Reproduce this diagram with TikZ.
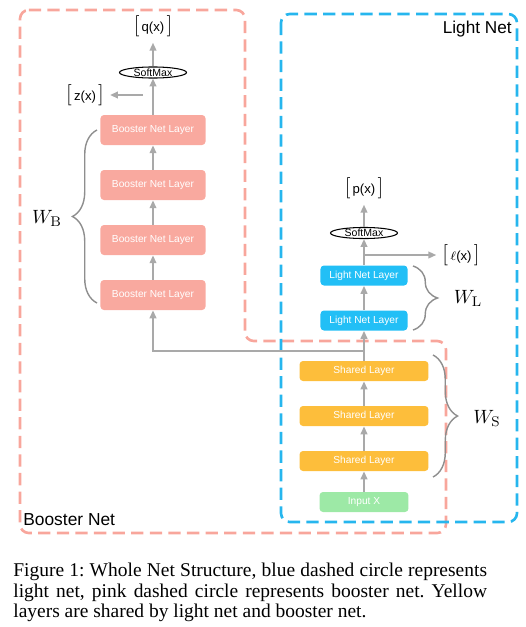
\documentclass[tikz,border=0pt]{standalone}
\usepackage[no-math]{fontspec}
\setmainfont{Liberation Serif}
\newfontfamily\helv{Liberation Sans}
\usetikzlibrary{arrows.meta,shapes.geometric,decorations.pathreplacing}

\definecolor{boostpink}{HTML}{F9A99F}
\definecolor{boostdash}{HTML}{F8A69C}
\definecolor{lightblue}{HTML}{22BFF6}
\definecolor{lightdash}{HTML}{26B6EE}
\definecolor{sharedyellow}{HTML}{FDBE3B}
\definecolor{inputgreen}{HTML}{9DE9A6}
\definecolor{arrgray}{HTML}{A9A9A9}
\definecolor{bracegray}{HTML}{8E8E8E}

\newcommand{\outbkt}[1]{{\fontsize{12}{12}\selectfont$[$}\,#1\,{\fontsize{12}{12}\selectfont$]$}}

\begin{document}
\begin{tikzpicture}[x=0.57pt,y=-0.57pt,
    layer/.style={rectangle,rounded corners=2pt,text=white,inner sep=0pt,font=\helv\fontsize{5.8}{6}\selectfont},
    boostbox/.style={layer,fill=boostpink,minimum width=59.9pt,minimum height=17.1pt},
    lightbox/.style={layer,fill=lightblue,minimum width=49.6pt,minimum height=11.4pt},
    sharedbox/.style={layer,fill=sharedyellow,minimum width=73.5pt,minimum height=11.4pt},
    inputbox/.style={layer,fill=inputgreen,minimum width=50.7pt,minimum height=11.4pt},
    softmax/.style={ellipse,draw=black,line width=0.6pt,inner sep=0pt,minimum width=38.2pt,minimum height=6.3pt,font=\helv\fontsize{6}{6}\selectfont},
    outlbl/.style={font=\helv\fontsize{7.5}{8}\selectfont},
    arr/.style={draw=arrgray,line width=1pt,-{Triangle[length=4.5pt,width=3.8pt]}},
    brc/.style={draw=bracegray,line width=0.8pt,decorate,decoration={brace,amplitude=14pt}},
    wlbl/.style={font=\fontsize{11}{12}\selectfont}]

      \useasboundingbox (0,0) rectangle (525,627);

      \draw[boostdash,line width=1.5pt,dash pattern=on 7pt off 3.6pt,rounded corners=5pt] (20,10) -- (245,10) -- (245,341) -- (446,341) -- (446,533) -- (20,533) -- cycle;
      \draw[lightdash,line width=1.5pt,dash pattern=on 7pt off 3.6pt,rounded corners=5pt] (281,14) rectangle (517,522);
      \node[anchor=base east,inner sep=0pt,font=\helv\fontsize{9.8}{10}\selectfont] (lnname) at (512,33){Light Net};
      \node[anchor=base west,inner sep=0pt,font=\helv\fontsize{9.9}{10}\selectfont] (bnname) at (23,525){Booster Net};

      \node[boostbox] (bn1) at (153,295){Booster Net Layer};
      \node[boostbox] (bn2) at (153,240){Booster Net Layer};
      \node[boostbox] (bn3) at (153,185){Booster Net Layer};
      \node[boostbox] (bn4) at (153,130){Booster Net Layer};
      \node[softmax] (smB) at (153,72.5){SoftMax};
      \node[outlbl] (q) at (153,26){\outbkt{q(x)}};
      \node[outlbl] (z) at (85,95){\outbkt{z(x)}};
      \coordinate (zs) at (143,95);

      \node[inputbox] (inp) at (364,502){Input X};
      \node[sharedbox] (sh3) at (364,461){Shared Layer};
      \node[sharedbox] (sh2) at (364,416){Shared Layer};
      \node[sharedbox] (sh1) at (364,371){Shared Layer};
      \node[lightbox] (ln1) at (364,320.5){Light Net Layer};
      \node[lightbox] (ln2) at (364,275.5){Light Net Layer};
      \node[softmax] (smL) at (364,233){SoftMax};
      \node[outlbl] (p) at (364,188){\outbkt{p(x)}};
      \node[outlbl] (l) at (461,255){\outbkt{$\ell$(x)}};
      \coordinate (ls) at (364,255);
      \coordinate (split) at (364,351);

      \draw[arr] (inp) -- (sh3);
      \draw[arr] (sh3) -- (sh2);
      \draw[arr] (sh2) -- (sh1);
      \draw[arr] (sh1) -- (ln1);
      \draw[arr] (split) -| (bn1);
      \draw[arr] (ln1) -- (ln2);
      \draw[arr] (ln2) -- (smL);
      \draw[arr] (smL) -- (p);
      \draw[arr] (ls) -- (l);

      \draw[arr] (bn1) -- (bn2);
      \draw[arr] (bn2) -- (bn3);
      \draw[arr] (bn3) -- (bn4);
      \draw[arr] (bn4) -- (smB);
      \draw[arr] (smB) -- (q);
      \draw[arr] (zs) -- (z);

      \draw[brc] (97,303) -- (97,130);
      \node[wlbl] (wb) at (47,218){$W_{\mathrm{B}}$};
      \draw[brc] (413,266) -- (413,330);
      \node[wlbl] (wl) at (468,298){$W_{\mathrm{L}}$};
      \draw[brc] (433,355) -- (433,477);
      \node[wlbl] (ws) at (487,418){$W_{\mathrm{S}}$};

      \node[anchor=north west,inner sep=0pt,text width=270pt,align=justify,font=\fontsize{11.1}{11.8}\selectfont\frenchspacing] (cap) at (13,562.5){Figure 1: Whole Net Structure, blue dashed circle represents\linebreak light net, pink dashed circle represents booster net. Yellow\linebreak layers are shared by light net and booster net.};

    \end{tikzpicture}
\end{document}
